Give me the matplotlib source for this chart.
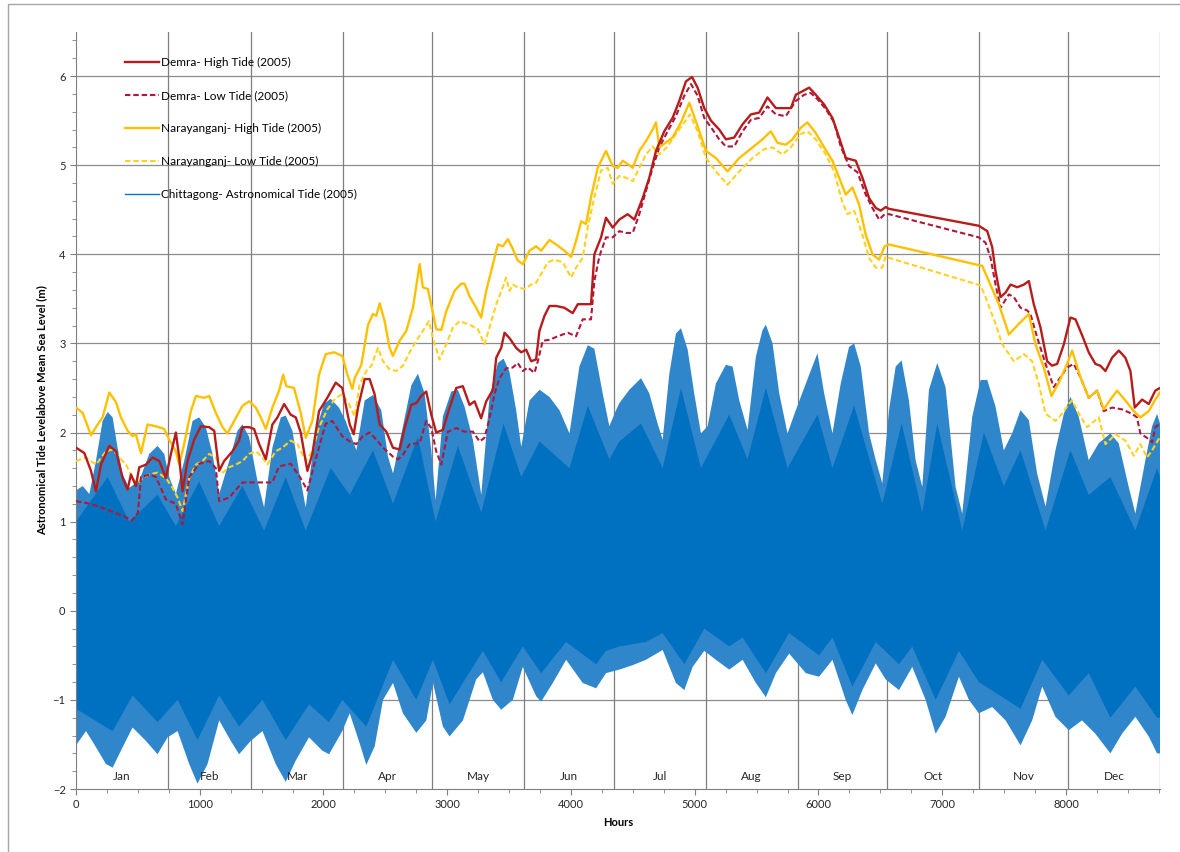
import numpy as np
import matplotlib.pyplot as plt
from matplotlib.lines import Line2D
from matplotlib.patches import Rectangle
from matplotlib.ticker import MultipleLocator

plt.rcParams['font.family'] = ['Lato', 'DejaVu Sans']

# month boundaries (hours) and names
month_edges = [0, 744, 1416, 2160, 2880, 3624, 4344, 5088, 5832, 6552, 7296, 8016, 8760]
months = ['Jan', 'Feb', 'Mar', 'Apr', 'May', 'Jun', 'Jul', 'Aug', 'Sep', 'Oct', 'Nov', 'Dec']

# Demra - High Tide (2005)
demra_hi_h = [0, 67, 121, 161, 202, 269, 323, 377, 417, 444, 484, 511, 565, 619, 673, 726, 767, 807, 834, 861,
              901, 955, 1009, 1076, 1117, 1157, 1197, 1265, 1318, 1345, 1399, 1439, 1480, 1534, 1587, 1628, 1682,
              1735, 1776, 1816, 1870, 1910, 1964, 2031, 2099, 2152, 2212, 2244, 2279, 2333, 2373, 2413, 2454, 2508,
              2561, 2615, 2656, 2709, 2750, 2790, 2830, 2871, 2911, 2965, 3019, 3073, 3126, 3180, 3221, 3274, 3315,
              3369, 3396, 3436, 3463, 3503, 3557, 3597, 3638, 3678, 3718, 3745, 3786, 3826, 3880, 3947, 4014, 4055,
              4162, 4189, 4243, 4283, 4337, 4391, 4458, 4512, 4579, 4633, 4687, 4754, 4821, 4875, 4929, 4978, 5023,
              5077, 5131, 5198, 5252, 5319, 5387, 5454, 5521, 5588, 5656, 5723, 5777, 5817, 5871, 5925, 5978, 6046,
              6113, 6167, 6221, 6301, 6355, 6409, 6463, 6503, 6543, 6570, 7296, 7364, 7404, 7431, 7471, 7512, 7552,
              7606, 7660, 7700, 7740, 7794, 7848, 7888, 7929, 7983, 8036, 8077, 8131, 8184, 8238, 8278, 8319, 8373,
              8427, 8480, 8521, 8556, 8615, 8669, 8722, 8760]
demra_hi = [1.83, 1.77, 1.57, 1.34, 1.64, 1.85, 1.79, 1.49, 1.36, 1.53, 1.40, 1.61, 1.64, 1.72, 1.68, 1.49, 1.76,
            2.00, 1.72, 1.34, 1.68, 1.92, 2.07, 2.06, 2.02, 1.57, 1.68, 1.79, 1.91, 2.06, 2.06, 2.04, 1.87, 1.70,
            2.09, 2.17, 2.32, 2.20, 2.17, 2.00, 1.57, 1.76, 2.24, 2.39, 2.56, 2.50, 2.09, 1.98, 2.28, 2.60, 2.60,
            2.43, 2.09, 2.01, 1.83, 1.81, 2.05, 2.31, 2.33, 2.41, 2.46, 2.20, 2.00, 2.03, 2.28, 2.50, 2.52, 2.31,
            2.35, 2.16, 2.35, 2.48, 2.84, 2.95, 3.12, 3.06, 2.95, 2.90, 2.93, 2.80, 2.82, 3.14, 3.31, 3.42, 3.42,
            3.40, 3.34, 3.44, 3.44, 4.00, 4.19, 4.41, 4.30, 4.39, 4.45, 4.39, 4.63, 4.86, 5.16, 5.38, 5.53, 5.72,
            5.94, 5.99, 5.87, 5.64, 5.50, 5.40, 5.29, 5.31, 5.46, 5.57, 5.59, 5.76, 5.64, 5.64, 5.64, 5.79, 5.83,
            5.87, 5.79, 5.68, 5.53, 5.31, 5.08, 5.05, 4.86, 4.63, 4.52, 4.49, 4.53, 4.51, 4.32, 4.26, 4.08, 3.81,
            3.52, 3.57, 3.66, 3.63, 3.66, 3.70, 3.44, 3.18, 2.80, 2.75, 2.77, 2.99, 3.29, 3.27, 3.09, 2.90, 2.77,
            2.75, 2.69, 2.84, 2.92, 2.84, 2.69, 2.28, 2.37, 2.32, 2.47, 2.50]

# Demra - Low Tide (2005)
demra_lo_h = [0, 81, 161, 242, 350, 404, 450, 500, 525, 600, 646, 726, 807, 861, 915, 995, 1076, 1130, 1157, 1238,
              1345, 1453, 1587, 1641, 1735, 1810, 1870, 1937, 2018, 2072, 2152, 2212, 2265, 2319, 2373, 2427, 2481,
              2561, 2602, 2642, 2696, 2777, 2830, 2871, 2911, 2952, 3005, 3073, 3140, 3207, 3261, 3301, 3342, 3382,
              3422, 3476, 3530, 3570, 3611, 3651, 3705, 3732, 3772, 3826, 3893, 3974, 4041, 4095, 4162, 4189, 4230,
              4283, 4337, 4391, 4445, 4499, 4552, 4606, 4660, 4714, 4781, 4848, 4916, 4970, 5023, 5077, 5144, 5198,
              5252, 5319, 5387, 5454, 5521, 5588, 5656, 5736, 5817, 5884, 5938, 5992, 6059, 6126, 6180, 6247, 6315,
              6382, 6436, 6490, 6535, 6570, 7296, 7350, 7391, 7431, 7471, 7498, 7539, 7579, 7633, 7687, 7713, 7767,
              7835, 7902, 7956, 8009, 8063, 8117, 8184, 8252, 8305, 8373, 8453, 8534, 8574, 8601, 8655, 8696, 8722,
              8760]
demra_lo = [1.23, 1.21, 1.18, 1.14, 1.08, 1.05, 1.01, 1.10, 1.50, 1.53, 1.50, 1.25, 1.20, 0.97, 1.50, 1.65, 1.68,
            1.60, 1.23, 1.27, 1.44, 1.44, 1.44, 1.62, 1.65, 1.50, 1.35, 1.70, 2.10, 2.13, 1.96, 1.90, 1.87, 1.96,
            2.00, 1.92, 1.83, 1.73, 1.70, 1.75, 1.87, 1.88, 2.13, 2.05, 1.79, 1.64, 2.01, 2.05, 2.01, 2.01, 1.90,
            1.94, 2.16, 2.43, 2.61, 2.72, 2.73, 2.78, 2.69, 2.73, 2.67, 2.80, 3.03, 3.04, 3.08, 3.12, 3.08, 3.27,
            3.27, 3.70, 3.98, 4.19, 4.19, 4.26, 4.24, 4.24, 4.45, 4.71, 4.97, 5.20, 5.38, 5.55, 5.78, 5.91, 5.78,
            5.53, 5.40, 5.29, 5.21, 5.21, 5.38, 5.51, 5.53, 5.66, 5.57, 5.55, 5.72, 5.79, 5.81, 5.74, 5.63, 5.48,
            5.21, 4.99, 4.92, 4.67, 4.52, 4.39, 4.45, 4.45, 4.19, 4.13, 3.96, 3.66, 3.40, 3.46, 3.55, 3.52, 3.40,
            3.37, 3.33, 3.07, 2.77, 2.51, 2.62, 2.73, 2.77, 2.62, 2.39, 2.47, 2.24, 2.28, 2.26, 2.21, 2.17, 1.99,
            1.94, 1.89, 2.06, 2.10]

# Narayanganj - High Tide (2005)
nara_hi_h = [0, 54, 121, 175, 215, 269, 323, 363, 417, 457, 484, 525, 578, 646, 713, 753, 807, 834, 874, 928,
             969, 1036, 1076, 1130, 1184, 1224, 1278, 1345, 1399, 1453, 1493, 1534, 1587, 1641, 1674, 1700, 1762,
             1816, 1857, 1910, 1964, 2018, 2085, 2152, 2193, 2233, 2252, 2306, 2360, 2400, 2427, 2454, 2494, 2534,
             2561, 2615, 2669, 2723, 2777, 2803, 2844, 2911, 2952, 2992, 3059, 3113, 3140, 3180, 3234, 3274, 3315,
             3369, 3409, 3449, 3490, 3530, 3570, 3611, 3665, 3718, 3759, 3826, 3880, 3947, 4001, 4041, 4082, 4122,
             4162, 4216, 4283, 4337, 4378, 4418, 4472, 4499, 4552, 4606, 4660, 4687, 4714, 4821, 4889, 4956, 5023,
             5091, 5171, 5265, 5360, 5467, 5548, 5615, 5669, 5736, 5790, 5857, 5911, 5978, 6046, 6113, 6167, 6221,
             6274, 6328, 6382, 6436, 6490, 6535, 6570, 7323, 7458, 7539, 7619, 7700, 7754, 7821, 7883, 7942, 8009,
             8050, 8117, 8184, 8252, 8305, 8359, 8413, 8480, 8548, 8601, 8669, 8722, 8760]
nara_hi = [2.28, 2.22, 1.97, 2.09, 2.17, 2.45, 2.34, 2.17, 2.02, 1.96, 1.98, 1.77, 2.09, 2.07, 2.04, 1.92, 1.79,
           1.64, 1.87, 2.24, 2.41, 2.39, 2.41, 2.22, 2.06, 1.99, 2.13, 2.30, 2.35, 2.28, 2.17, 2.04, 2.28, 2.47,
           2.65, 2.52, 2.50, 2.22, 1.94, 2.13, 2.65, 2.88, 2.90, 2.86, 2.65, 2.49, 2.61, 2.76, 3.21, 3.33, 3.31,
           3.45, 3.25, 2.95, 2.86, 3.03, 3.14, 3.40, 3.89, 3.63, 3.61, 3.16, 3.15, 3.36, 3.59, 3.67, 3.67, 3.53,
           3.40, 3.29, 3.59, 3.89, 4.11, 4.09, 4.17, 4.06, 3.93, 3.89, 4.04, 4.09, 4.04, 4.16, 4.11, 4.04, 3.97,
           4.15, 4.37, 4.34, 4.64, 4.97, 5.16, 4.99, 4.97, 5.05, 5.00, 4.97, 5.16, 5.27, 5.40, 5.48, 5.20, 5.31,
           5.48, 5.70, 5.44, 5.16, 5.08, 4.93, 5.08, 5.20, 5.29, 5.38, 5.25, 5.23, 5.29, 5.42, 5.48, 5.36, 5.20,
           5.05, 4.86, 4.67, 4.75, 4.56, 4.22, 4.00, 3.94, 4.09, 4.11, 3.87, 3.44, 3.10, 3.22, 3.33, 2.99, 2.73,
           2.41, 2.56, 2.77, 2.92, 2.62, 2.39, 2.47, 2.26, 2.37, 2.47, 2.36, 2.24, 2.17, 2.24, 2.37, 2.45]

# Narayanganj - Low Tide (2005)
nara_lo_h = [0, 81, 161, 242, 296, 350, 404, 457, 498, 538, 592, 659, 726, 780, 821, 861, 915, 969, 1022, 1076,
             1130, 1184, 1238, 1291, 1345, 1399, 1453, 1507, 1547, 1614, 1668, 1735, 1789, 1857, 1910, 1964, 2031,
             2099, 2152, 2206, 2252, 2292, 2346, 2387, 2440, 2481, 2534, 2588, 2642, 2696, 2750, 2803, 2852, 2884,
             2938, 2992, 3046, 3100, 3180, 3248, 3301, 3342, 3396, 3449, 3476, 3503, 3530, 3570, 3624, 3678, 3718,
             3759, 3813, 3866, 3934, 4001, 4041, 4095, 4135, 4189, 4243, 4297, 4337, 4391, 4445, 4499, 4552, 4606,
             4660, 4714, 4781, 4848, 4916, 4961, 5023, 5091, 5171, 5265, 5360, 5467, 5561, 5629, 5709, 5777, 5857,
             5911, 5978, 6059, 6126, 6194, 6234, 6288, 6355, 6409, 6463, 6516, 6543, 6570, 7310, 7350, 7431, 7485,
             7579, 7660, 7727, 7781, 7835, 7915, 7969, 8023, 8050, 8104, 8171, 8265, 8319, 8400, 8480, 8548, 8601,
             8655, 8696, 8760]
nara_lo = [1.68, 1.72, 1.64, 1.79, 1.81, 1.72, 1.64, 1.49, 1.42, 1.49, 1.53, 1.55, 1.49, 1.38, 1.27, 1.12, 1.49,
           1.64, 1.68, 1.76, 1.72, 1.55, 1.61, 1.64, 1.68, 1.76, 1.79, 1.72, 1.64, 1.79, 1.83, 1.91, 1.87, 1.68,
           1.79, 2.06, 2.26, 2.39, 2.43, 2.32, 2.18, 2.54, 2.69, 2.75, 2.95, 2.80, 2.71, 2.69, 2.75, 2.90, 3.03,
           3.14, 3.25, 3.06, 2.82, 2.99, 3.18, 3.25, 3.21, 3.16, 2.99, 3.18, 3.44, 3.63, 3.74, 3.59, 3.66, 3.63,
           3.61, 3.66, 3.68, 3.78, 3.91, 3.94, 3.91, 3.74, 3.85, 3.96, 4.30, 4.64, 4.94, 4.97, 4.79, 4.88, 4.86,
           4.82, 4.97, 5.12, 5.21, 5.12, 5.21, 5.35, 5.48, 5.57, 5.38, 5.08, 4.93, 4.78, 4.93, 5.08, 5.18, 5.20,
           5.12, 5.20, 5.35, 5.38, 5.29, 5.12, 4.93, 4.58, 4.45, 4.49, 4.22, 3.96, 3.85, 3.85, 3.98, 3.96, 3.65,
           3.52, 3.22, 2.99, 2.80, 2.88, 2.80, 2.54, 2.21, 2.13, 2.21, 2.32, 2.36, 2.21, 2.06, 2.17, 1.87, 1.98,
           1.91, 1.74, 1.87, 1.72, 1.80, 1.95]

# Chittagong - Astronomical Tide (2005): envelope of the high waters and of the low waters
ctg_top_h = [0, 54, 108, 161, 215, 256, 296, 336, 377, 430, 511, 592, 659, 713, 753, 807, 874, 942, 995, 1049,
             1103, 1157, 1238, 1305, 1345, 1399, 1466, 1520, 1587, 1655, 1695, 1749, 1802, 1856, 1937, 2004, 2058,
             2125, 2179, 2266, 2333, 2400, 2467, 2521, 2562, 2642, 2710, 2763, 2817, 2871, 2906, 2965, 3033, 3086,
             3140, 3207, 3275, 3342, 3409, 3455, 3503, 3557, 3598, 3665, 3746, 3826, 3907, 3988, 4068, 4136, 4189,
             4256, 4310, 4364, 4391, 4472, 4566, 4633, 4700, 4741, 4795, 4848, 4889, 4943, 4996, 5050, 5104, 5171,
             5252, 5306, 5360, 5427, 5494, 5548, 5575, 5629, 5683, 5750, 5817, 5898, 5992, 6046, 6113, 6180, 6247,
             6288, 6342, 6409, 6463, 6516, 6570, 6624, 6672, 6731, 6785, 6839, 6893, 6960, 7027, 7108, 7162, 7243,
             7310, 7364, 7431, 7498, 7565, 7633, 7700, 7767, 7835, 7915, 7983, 8036, 8103, 8184, 8265, 8359, 8426,
             8507, 8561, 8642, 8696, 8736, 8760]
ctg_top = [1.35, 1.40, 1.31, 1.68, 2.13, 2.23, 2.17, 1.83, 1.53, 1.38, 1.46, 1.76, 1.85, 1.76, 1.50, 1.31, 1.68,
           2.13, 2.17, 2.06, 1.76, 1.31, 1.68, 2.02, 2.09, 1.95, 1.46, 1.16, 1.83, 2.17, 2.19, 2.02, 1.57, 1.16,
           2.02, 2.32, 2.38, 2.28, 2.13, 1.80, 2.36, 2.42, 2.25, 1.73, 1.54, 2.07, 2.53, 2.66, 2.44, 1.80, 1.24,
           2.18, 2.46, 2.48, 2.29, 1.92, 1.30, 2.40, 2.78, 2.83, 2.68, 2.25, 1.84, 2.36, 2.48, 2.40, 2.25, 1.99,
           2.74, 2.98, 2.94, 2.44, 2.07, 2.25, 2.33, 2.48, 2.61, 2.44, 2.10, 1.92, 2.66, 3.11, 3.17, 2.93, 2.44,
           1.99, 2.07, 2.55, 2.76, 2.74, 2.36, 2.03, 2.85, 3.15, 3.21, 3.00, 2.44, 1.99, 2.25, 2.55, 2.89, 2.44,
           1.99, 2.55, 2.96, 3.00, 2.74, 1.99, 1.69, 1.43, 2.25, 2.74, 2.81, 2.36, 1.69, 1.39, 2.48, 2.78, 2.51,
           1.39, 1.09, 2.18, 2.59, 2.59, 2.29, 1.80, 1.99, 2.25, 2.14, 1.54, 1.17, 1.80, 2.21, 2.40, 2.18, 1.69,
           1.88, 1.99, 1.88, 1.39, 1.09, 1.69, 2.07, 2.21, 2.10]
ctg_bot_h = [0, 81, 161, 242, 296, 363, 457, 565, 659, 740, 821, 915, 982, 1063, 1157, 1251, 1318, 1412, 1507,
             1614, 1695, 1776, 1883, 1991, 2045, 2152, 2212, 2293, 2346, 2414, 2481, 2562, 2642, 2750, 2831, 2885,
             2965, 3019, 3127, 3234, 3288, 3369, 3436, 3530, 3611, 3719, 3759, 3853, 3961, 4095, 4203, 4283, 4391,
             4499, 4606, 4741, 4848, 4916, 4983, 5077, 5171, 5279, 5387, 5494, 5575, 5656, 5763, 5898, 6005, 6113,
             6220, 6274, 6355, 6463, 6543, 6651, 6758, 6866, 6947, 7027, 7135, 7216, 7296, 7404, 7512, 7633, 7727,
             7808, 7915, 8023, 8130, 8238, 8359, 8453, 8561, 8669, 8736, 8760]
ctg_bot = [-1.51, -1.35, -1.53, -1.72, -1.76, -1.57, -1.31, -1.46, -1.61, -1.42, -1.35, -1.72, -1.94, -1.72,
           -1.23, -1.46, -1.61, -1.46, -1.35, -1.72, -1.92, -1.68, -1.42, -1.57, -1.61, -1.35, -1.15, -1.49, -1.73,
           -1.52, -1.00, -0.81, -1.15, -1.37, -1.23, -0.81, -1.30, -1.41, -1.23, -0.77, -0.69, -1.00, -1.11, -1.00,
           -0.63, -0.96, -1.02, -0.81, -0.55, -0.81, -0.87, -0.70, -0.66, -0.61, -0.55, -0.44, -0.81, -0.89, -0.63,
           -0.45, -0.55, -0.66, -0.55, -0.81, -0.97, -0.70, -0.48, -0.70, -0.74, -0.55, -1.00, -1.17, -0.89, -0.59,
           -0.77, -0.89, -0.63, -1.00, -1.38, -1.19, -0.74, -1.00, -1.15, -1.08, -1.23, -1.51, -1.23, -0.85, -1.19,
           -1.34, -1.23, -1.38, -1.60, -1.38, -1.19, -1.41, -1.60, -1.60]

# dense part of the Chittagong trace (where successive tides overlap)
core_top_h = [0, 256, 430, 659, 807, 995, 1157, 1345, 1520, 1695, 1856, 2058, 2212, 2400, 2562, 2763, 2906, 3086,
              3275, 3455, 3598, 3746, 3988, 4136, 4310, 4391, 4566, 4741, 4889, 5050, 5279, 5427, 5575, 5750, 5992,
              6113, 6288, 6516, 6672, 6839, 6960, 7162, 7337, 7498, 7633, 7835, 8036, 8184, 8359, 8561, 8736, 8760]
core_top = [1.0, 1.5, 1.0, 1.3, 0.95, 1.45, 0.95, 1.4, 0.9, 1.5, 0.9, 1.6, 1.3, 1.8, 1.2, 1.95, 1.0, 1.85, 1.1,
            2.1, 1.5, 1.9, 1.6, 2.3, 1.7, 1.9, 2.1, 1.6, 2.5, 1.6, 2.2, 1.7, 2.5, 1.6, 2.2, 1.6, 2.3, 1.2, 2.1,
            1.1, 2.1, 0.9, 2.0, 1.4, 1.8, 0.9, 1.8, 1.3, 1.5, 0.9, 1.6, 1.5]
core_bot_h = [0, 296, 457, 659, 821, 982, 1157, 1318, 1507, 1695, 1883, 2045, 2152, 2346, 2562, 2750, 2885, 3019,
              3288, 3436, 3611, 3759, 3961, 4203, 4283, 4391, 4606, 4741, 4916, 5077, 5279, 5387, 5575, 5763, 6005,
              6113, 6274, 6463, 6651, 6758, 6947, 7135, 7296, 7633, 7808, 8023, 8184, 8359, 8561, 8736, 8760]
core_bot = [-1.1, -1.35, -0.95, -1.25, -1.0, -1.45, -0.95, -1.3, -1.0, -1.45, -1.05, -1.25, -1.0, -1.3, -0.55,
            -1.0, -0.55, -1.05, -0.45, -0.8, -0.4, -0.7, -0.35, -0.6, -0.45, -0.4, -0.35, -0.25, -0.6, -0.2, -0.4,
            -0.3, -0.7, -0.25, -0.5, -0.3, -0.85, -0.35, -0.6, -0.4, -1.0, -0.45, -0.8, -1.1, -0.55, -0.95, -0.7,
            -1.2, -0.85, -1.2, -1.2]

fig = plt.figure(figsize=(11.8, 8.52), dpi=100)
ax = fig.add_axes([76 / 1180, 1 - 789 / 852, (1160 - 76) / 1180, (789 - 31.5) / 852])

blue = '#0070C0'
ax.fill(ctg_top_h + ctg_bot_h[::-1], ctg_top + ctg_bot[::-1], color='#2F86CB', lw=0, zorder=2)
ax.fill(core_top_h + core_bot_h[::-1], core_top + core_bot[::-1], color=blue, lw=0, zorder=2)

ax.plot(demra_hi_h, demra_hi, color='#B71C1C', lw=1.7, zorder=5)
ax.plot(demra_lo_h, demra_lo, color='#B0173A', lw=1.5, dashes=(2.6, 1.4), zorder=4)
ax.plot(nara_hi_h, nara_hi, color='#FFC000', lw=1.7, zorder=4)
ax.plot(nara_lo_h, nara_lo, color='#FFD21F', lw=1.5, dashes=(2.6, 1.4), zorder=3)

# grid
for yv in range(-1, 7):
    ax.axhline(yv, color='#8C8C8C', lw=0.9, zorder=1)
for xv in month_edges[1:]:
    ax.axvline(xv, color='#7F7F7F', lw=0.9, zorder=1)

for i, m in enumerate(months):
    ax.text((month_edges[i] + month_edges[i + 1]) / 2, -1.86, m, ha='center', va='center', fontsize=8.5,
            color='#262626', zorder=6)

ax.set_xlim(0, 8760)
ax.set_ylim(-2, 6.5)
ax.xaxis.set_major_locator(MultipleLocator(1000))
ax.xaxis.set_minor_locator(MultipleLocator(250))
ax.yaxis.set_major_locator(MultipleLocator(1))
ax.yaxis.set_minor_locator(MultipleLocator(0.2))
ax.set_yticks(range(-2, 7))
ax.tick_params(which='both', direction='out', colors='#7F7F7F', labelcolor='#262626', labelsize=8)
ax.tick_params(which='major', length=4)
ax.tick_params(which='minor', length=3)
for s in ['top', 'right']:
    ax.spines[s].set_visible(False)
for s in ['left', 'bottom']:
    ax.spines[s].set_color('#7F7F7F')

ax.set_xlabel('Hours', fontsize=8, fontweight='bold', labelpad=5)
ax.set_ylabel('Astronomical Tide Levelabove Mean Sea Level (m)', fontsize=8, fontweight='bold', labelpad=4)

handles = [
    Line2D([], [], color='#B71C1C', lw=1.7),
    Line2D([], [], color='#B0173A', lw=1.5, dashes=(2.6, 1.4)),
    Line2D([], [], color='#FFC000', lw=1.7),
    Line2D([], [], color='#FFD21F', lw=1.5, dashes=(2.6, 1.4)),
    Line2D([], [], color=blue, lw=1.0),
]
labels = ['Demra- High Tide (2005)', 'Demra- Low Tide (2005)', 'Narayanganj- High Tide (2005)',
          'Narayanganj- Low Tide (2005)', 'Chittagong- Astronomical Tide (2005)']
leg = ax.legend(handles, labels, loc='upper left', bbox_to_anchor=(0.035, 0.98), frameon=False, fontsize=8.5,
                labelspacing=1.85, handlelength=2.9, handletextpad=0.15)
leg.set_zorder(7)

fig.add_artist(Rectangle((8 / 1180, -0.05), 1.2, 1 - 4 / 852 + 0.05, transform=fig.transFigure,
                         fill=False, edgecolor='#A6A6A6', lw=1))

fig.savefig('out.png', dpi=100)
